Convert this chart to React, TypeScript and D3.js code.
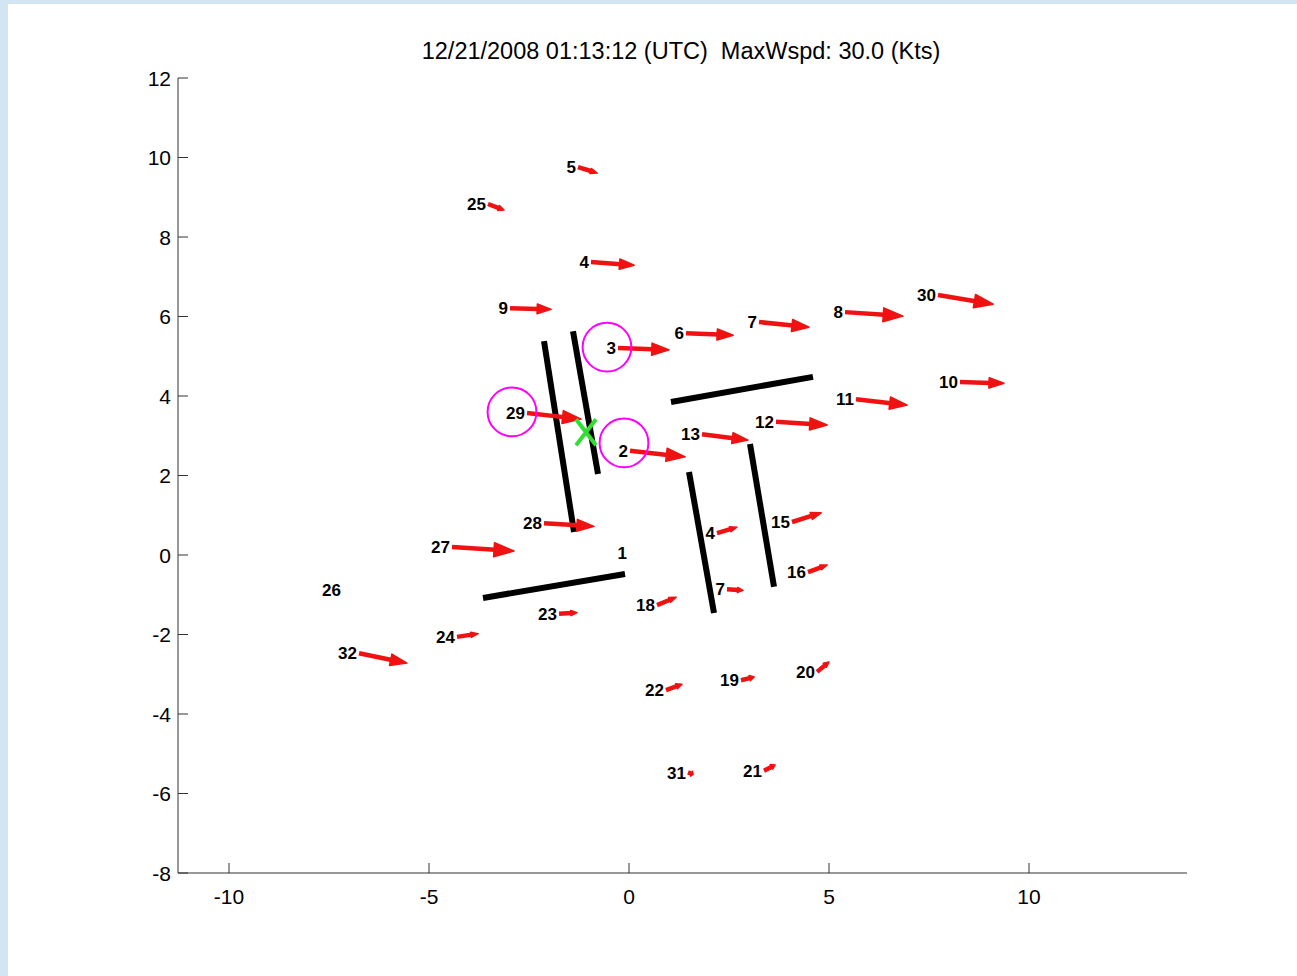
import React, { useEffect, useRef } from 'react';
import * as d3 from 'd3';

// station ids, positions (km) and wind vectors (plot units)
const stationIds = ['5', '25', '4', '9', '3', '6', '7', '8', '30', '10', '11', '12', '13', '29', '2', '28', '27', '1', '26',
  '4', '15', '16', '7', '18', '23', '24', '32', '22', '19', '20', '31', '21'];
const stationX = [-1.275, -3.525, -0.95, -2.975, -0.275, 1.425, 3.25, 5.4, 7.725, 8.275, 5.675, 3.675, 1.825, -2.55, 0.025, -2.125, -4.425, 0.0, -7.15,
  2.2, 4.075, 4.475, 2.45, 0.7, -1.75, -4.3, -6.75, 0.925, 2.8, 4.7, 1.475, 3.375];
const stationY = [9.76, 8.83, 7.37, 6.21, 5.21, 5.58, 5.86, 6.11, 6.54, 4.35, 3.92, 3.35, 3.04, 3.57, 2.62, 0.8, 0.2, 0.05, -0.88,
  0.55, 0.83, -0.43, -0.86, -1.26, -1.48, -2.06, -2.47, -3.4, -3.15, -2.94, -5.47, -5.43];
const windU = [0.48, 0.4, 1.08, 1.03, 1.28, 1.18, 1.25, 1.45, 1.38, 1.1, 1.28, 1.28, 1.15, 1.35, 1.38, 1.25, 1.55, 0, 0,
  0.5, 0.73, 0.48, 0.4, 0.48, 0.45, 0.53, 1.2, 0.4, 0.33, 0.3, 0.13, 0.28];
const windV = [-0.15, -0.15, -0.08, -0.03, -0.05, -0.05, -0.13, -0.1, -0.23, -0.03, -0.15, -0.08, -0.15, -0.15, -0.15, -0.08, -0.1, 0, 0,
  0.15, 0.23, 0.18, -0.03, 0.2, 0.03, 0.08, -0.25, 0.15, 0.08, 0.25, -0.05, 0.15];

// black segments: [x1, y1, x2, y2]
const segments = [
  [-2.125, 5.38, -1.375, 0.58],
  [-1.4, 5.63, -0.775, 2.04],
  [1.05, 3.85, 4.6, 4.48],
  [-3.65, -1.08, -0.1, -0.48],
  [1.5, 2.09, 2.125, -1.46],
  [3.025, 2.79, 3.625, -0.8],
];

// magenta rings around stations 3, 29, 2
const ringX = [-0.55, -2.925, -0.125];
const ringY = [5.23, 3.6, 2.82];
const ringR = 0.61;

const centerX = -1.075;
const centerY = 3.09;

const xTicks = [-10, -5, 0, 5, 10];
const yTicks = [-8, -6, -4, -2, 0, 2, 4, 6, 8, 10, 12];

const titleText = '12/21/2008 01:13:12 (UTC)  MaxWspd: 30.0 (Kts)';

const W = 1297;
const H = 976;

const App = () => {
  const svgRef = useRef<SVGSVGElement>(null);

  useEffect(() => {
    const svg = d3.select(svgRef.current);
    svg.selectAll('*').remove();

    // slide background
    svg.append('rect').attr('width', W).attr('height', H).attr('fill', '#d3e4f3');
    svg.append('rect').attr('x', 8).attr('y', 4).attr('width', W - 8).attr('height', H - 4).attr('fill', '#ffffff');

    const x = d3.scaleLinear().domain([-11.275, 13.925]).range([178, 1186]);
    const y = d3.scaleLinear().domain([-8, 12]).range([873, 78]);

    const font = '"Liberation Sans", Arial, Helvetica, sans-serif';
    const axisColor = '#333';

    // axes (left and bottom only, ticks pointing inward)
    svg.append('line').attr('x1', 178).attr('x2', 178).attr('y1', 78).attr('y2', 873)
      .attr('stroke', axisColor).attr('stroke-width', 1);
    svg.append('line').attr('x1', 178).attr('x2', 1187).attr('y1', 873).attr('y2', 873)
      .attr('stroke', axisColor).attr('stroke-width', 1);

    yTicks.forEach(t => {
      svg.append('line').attr('x1', 178).attr('x2', 188).attr('y1', y(t)).attr('y2', y(t))
        .attr('stroke', axisColor);
      svg.append('text').attr('x', 171).attr('y', y(t)).attr('dy', '0.36em')
        .attr('text-anchor', 'end').attr('font-family', font).attr('font-size', 21)
        .attr('fill', '#000').text(t);
    });
    xTicks.forEach(t => {
      svg.append('line').attr('x1', x(t)).attr('x2', x(t)).attr('y1', 873).attr('y2', 863)
        .attr('stroke', axisColor);
      svg.append('text').attr('x', x(t)).attr('y', 896).attr('dy', '0.36em')
        .attr('text-anchor', 'middle').attr('font-family', font).attr('font-size', 21)
        .attr('fill', '#000').text(t);
    });

    // title
    svg.append('text').attr('x', 681).attr('y', 51).attr('dy', '0.36em')
      .attr('text-anchor', 'middle').attr('font-family', font).attr('font-size', 23.5)
      .style('white-space', 'pre')
      .attr('fill', '#000').text(titleText);

    // black lines
    segments.forEach(s => {
      svg.append('line')
        .attr('x1', x(s[0])).attr('y1', y(s[1])).attr('x2', x(s[2])).attr('y2', y(s[3]))
        .attr('stroke', '#000').attr('stroke-width', 6);
    });

    // wind arrows
    const red = '#f01212';
    stationIds.forEach((id, i) => {
      const x0 = x(stationX[i]);
      const y0 = y(stationY[i]);
      const x1 = x(stationX[i] + windU[i]);
      const y1 = y(stationY[i] + windV[i]);
      const len = Math.hypot(x1 - x0, y1 - y0);
      if (len > 0.5) {
        const ux = (x1 - x0) / len;
        const uy = (y1 - y0) / len;
        const headLen = Math.min(len * 0.34, 20);
        const halfW = Math.max(headLen * 0.35, 2.6);
        const bx = x1 - ux * headLen;
        const by = y1 - uy * headLen;
        svg.append('line').attr('x1', x0).attr('y1', y0).attr('x2', bx + ux).attr('y2', by + uy)
          .attr('stroke', red).attr('stroke-width', 4.5);
        svg.append('path')
          .attr('d', `M${x1},${y1}L${bx - uy * halfW},${by + ux * halfW}L${bx + uy * halfW},${by - ux * halfW}Z`)
          .attr('fill', red).attr('stroke', red).attr('stroke-width', 1.5).attr('stroke-linejoin', 'round');
      }
      svg.append('text').attr('x', x0 - 2).attr('y', y0).attr('dy', '0.36em')
        .attr('text-anchor', 'end').attr('font-family', font).attr('font-size', 17)
        .attr('font-weight', 'bold').attr('fill', '#000').text(id);
    });

    // rings
    ringX.forEach((rx, i) => {
      svg.append('circle').attr('cx', x(rx)).attr('cy', y(ringY[i]))
        .attr('r', x(ringR) - x(0))
        .attr('fill', 'none').attr('stroke', '#ff00ff').attr('stroke-width', 2);
    });

    // centre marker
    const cx = x(centerX);
    const cy = y(centerY);
    svg.append('path')
      .attr('d', `M${cx - 10},${cy - 13}L${cx + 10},${cy + 13}M${cx + 10},${cy - 13}L${cx - 10},${cy + 13}`)
      .attr('stroke', '#33dd33').attr('stroke-width', 4).attr('fill', 'none');
  }, []);

  return (
    <svg ref={svgRef} width={W} height={H} style={{ position: 'absolute', left: 0, top: 0 }}></svg>
  );
};

export default App;
